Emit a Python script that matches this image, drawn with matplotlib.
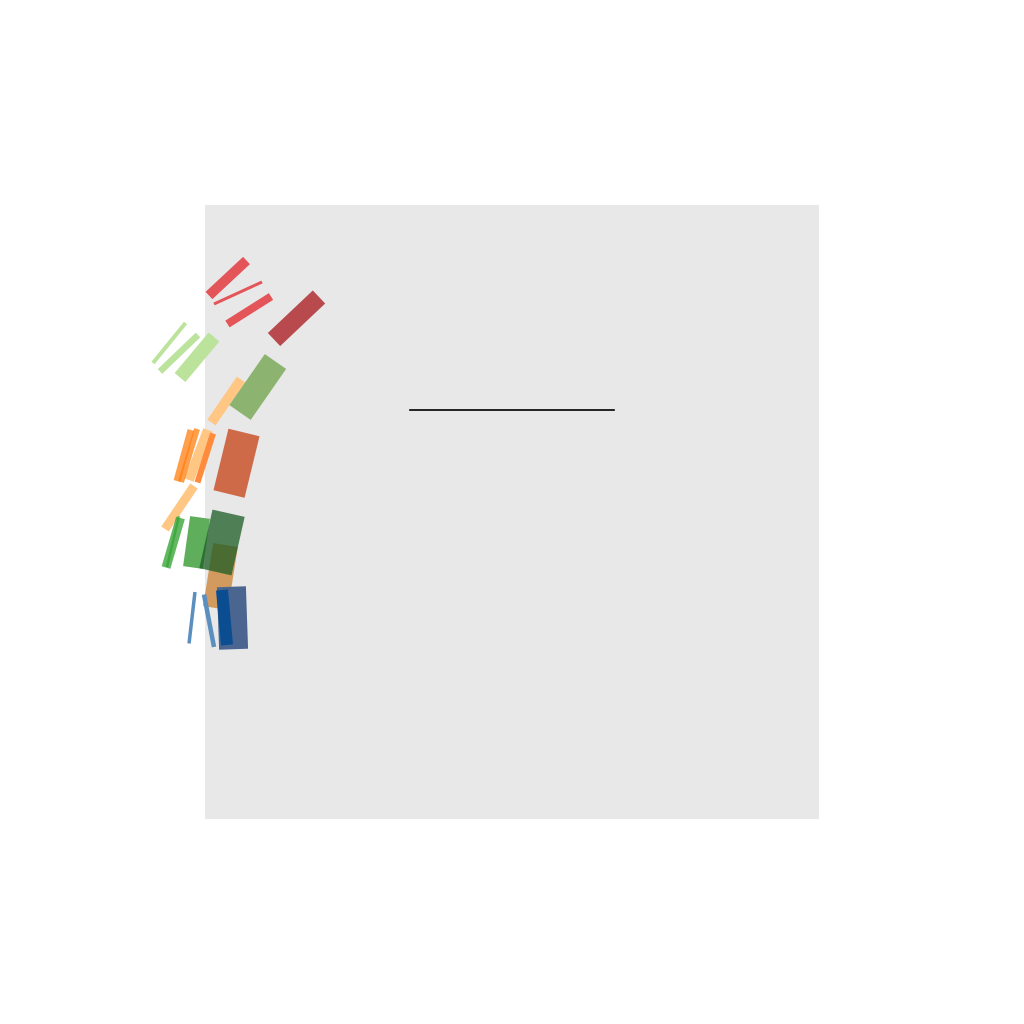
import matplotlib
matplotlib.use("Agg")
import matplotlib.pyplot as plt
from matplotlib.patches import Rectangle

# horizontal reference line inside the grey panel
line_x = [1, 2]
line_y = [2, 2]

# bars: centre (figure pixels, y measured from top), length, width, angle (deg, ccw)
bar_cx = [227.75, 238.0, 249.25, 296.5,
          169.25, 179.0, 197.0, 226.25, 257.75,
          198.5, 184.0, 189.0, 205.25, 236.5,
          179.5, 173.25, 173.0, 196.5, 220.5, 222.0,
          192.0, 209.0, 232.5, 224.5]
bar_cy = [278.0, 293.0, 310.25, 318.25,
          343.0, 353.25, 357.25, 401.0, 387.0,
          455.0, 455.5, 455.5, 458.0, 463.25,
          507.5, 542.75, 541.5, 542.5, 576.5, 542.5,
          617.75, 620.75, 618.0, 617.5]
bar_len = [51.3, 52.8, 51.5, 61.9,
           51.5, 52.7, 52.9, 52.1, 62.1,
           53.5, 52.9, 55.4, 51.4, 63.3,
           51.9, 51.6, 52.4, 50.5, 63.8, 60.0,
           51.8, 53.4, 62.5, 55.2]
bar_wid = [10, 3, 8, 18,
           4, 6.5, 14, 10, 26,
           10, 7, 6, 6, 32,
           9, 9, 2.5, 20, 25, 33,
           3.5, 4.5, 29, 12]
bar_ang = [43.0, 24.6, 32.3, 43.4,
           50.9, 43.8, 50.0, 55.5, 55.2,
           69.2, 74.6, 73.2, 72.4, 76.3,
           56.0, 73.7, 76.8, 82.0, 81.0, 77.3,
           83.4, 100.8, 92.0, 95.2]
bar_color = ["#e35558", "#e35558", "#e35558", "#b84a4e",
             "#bce39c", "#bce39c", "#bce39c", "#ffc684", "#8db370",
             "#ffc684", "#ff7f0e", "#ff7f0e", "#ff8b3d", "#cf6a48",
             "#ffc684", "#2ca02c", "#2ca02c", "#5fae5c", "#d39a5f", "#1c5d24",
             "#5a8fc0", "#5a8fc0", "#4a6690", "#0a4d90"]
bar_alpha = [1, 1, 1, 1,
             1, 1, 1, 1, 1,
             1, 0.75, 0.75, 1, 1,
             1, 0.75, 0.6, 1, 1, 0.75,
             1, 1, 1, 1]

fig = plt.figure(figsize=(10.24, 10.24), dpi=100)

ax = fig.add_axes([0.2, 0.2, 0.6, 0.6])
ax.set_facecolor("#e8e8e8")
ax.plot(line_x, line_y, color="black", lw=1.2)
ax.set_xlim(0, 3)
ax.set_ylim(0, 3)
ax.set_xticks([])
ax.set_yticks([])
for s in ax.spines.values():
    s.set_visible(False)

# overlay for the rotated bars, which spill outside the panel
ov = fig.add_axes([0, 0, 1, 1])
ov.set_xlim(0, 1024)
ov.set_ylim(0, 1024)
ov.patch.set_alpha(0)
ov.axis("off")

for cx, cy, ln, wd, ang, col, al in zip(bar_cx, bar_cy, bar_len, bar_wid,
                                        bar_ang, bar_color, bar_alpha):
    y = 1024 - cy
    r = Rectangle((cx - ln / 2, y - wd / 2), ln, wd, angle=ang,
                  rotation_point="center", facecolor=col, alpha=al,
                  edgecolor="none")
    ov.add_patch(r)

fig.savefig("out.png", dpi=100)
